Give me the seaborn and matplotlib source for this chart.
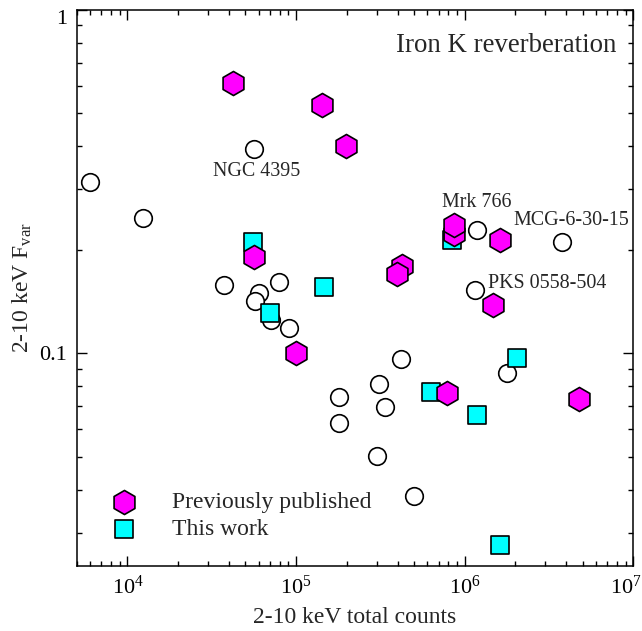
import numpy as np
import pandas as pd
import seaborn as sns
import matplotlib
matplotlib.use("Agg")
import matplotlib.pyplot as plt
import matplotlib.transforms as mtrans
from matplotlib.ticker import LogLocator, FixedLocator, FixedFormatter, NullFormatter

# ---- data ----
other_counts = [6.0e3, 1.24e4, 5.6e4, 3.75e4, 7.9e4, 6.0e4, 5.7e4, 7.1e4, 9.1e4,
                1.18e6, 3.78e6, 1.15e6, 4.21e5, 3.09e5, 1.80e5, 3.37e5, 1.80e5,
                3.02e5, 4.98e5, 1.78e6]
other_fvar = [0.315, 0.248, 0.393, 0.158, 0.161, 0.150, 0.142, 0.125, 0.118,
              0.228, 0.211, 0.153, 0.0962, 0.0814, 0.0744, 0.0699, 0.0625,
              0.0502, 0.0385, 0.0877]

pub_counts = [4.21e4, 1.43e5, 1.97e5, 5.66e4, 8.59e5, 8.59e5, 1.62e6, 4.27e5,
              3.97e5, 1.48e6, 1.0e5, 7.9e5, 4.78e6]
pub_fvar = [0.612, 0.528, 0.400, 0.190, 0.222, 0.236, 0.213, 0.179,
            0.170, 0.138, 0.100, 0.0764, 0.0736]

new_counts = [5.52e4, 7.0e4, 1.455e5, 8.42e5, 6.35e5, 1.18e6, 2.03e6, 1.63e6]
new_fvar = [0.210, 0.131, 0.156, 0.213, 0.0773, 0.0661, 0.0968, 0.0277]

# named sources: (name, x, y)
src_names = ["NGC 4395", "Mrk 766", "MCG-6-30-15", "PKS 0558-504"]
src_counts = [5.6e4, 8.59e5, 3.78e6, 1.15e6]
src_fvar = [0.393, 0.236, 0.211, 0.153]

x_ticks = [1e4, 1e5, 1e6, 1e7]
x_ticklabels = ["$10^{4}$", "$10^{5}$", "$10^{6}$", "$10^{7}$"]
y_ticks = [0.1, 1.0]
y_ticklabels = ["0.1", "1"]

legend_labels = ["Previously published", "This work"]
title_text = "Iron K reverberation"
xlabel = "2-10 keV total counts"
ylabel = "2-10 keV F$_{\\mathregular{var}}$"

# ---- style ----
sns.set_style("ticks")
plt.rcParams["font.family"] = ["Liberation Serif", "DejaVu Serif"]
plt.rcParams["mathtext.fontset"] = "custom"
plt.rcParams["mathtext.rm"] = "Liberation Serif"
plt.rcParams["mathtext.it"] = "Liberation Serif:italic"
plt.rcParams["mathtext.bf"] = "Liberation Serif:bold"
plt.rcParams["axes.linewidth"] = 1.1

fig = plt.figure(figsize=(6.42, 6.31), dpi=100)
ax = fig.add_axes([0.1195, 0.1030, 0.8670, 0.8816])

df_other = pd.DataFrame({"counts": other_counts, "fvar": other_fvar})
df_pub = pd.DataFrame({"counts": pub_counts, "fvar": pub_fvar})
df_new = pd.DataFrame({"counts": new_counts, "fvar": new_fvar})

sns.scatterplot(data=df_other, x="counts", y="fvar", ax=ax, marker="o", s=160,
                facecolor="white", edgecolor="black", linewidth=1.2, legend=False, zorder=3)
sns.scatterplot(data=df_new, x="counts", y="fvar", ax=ax, marker="s", s=160,
                color="#00FFFF", edgecolor="black", linewidth=1.2, zorder=4,
                label=legend_labels[1])
sns.scatterplot(data=df_pub, x="counts", y="fvar", ax=ax, marker="h", s=300,
                color="#FF00FF", edgecolor="black", linewidth=1.2, zorder=5,
                label=legend_labels[0])

ax.set_xscale("log")
ax.set_yscale("log")
ax.set_xlim(5000, 1e7)
ax.set_ylim(0.024, 1.0)

ax.xaxis.set_major_locator(FixedLocator(x_ticks))
ax.xaxis.set_major_formatter(FixedFormatter(x_ticklabels))
ax.xaxis.set_minor_locator(LogLocator(base=10, subs=np.arange(2, 10), numticks=20))
ax.xaxis.set_minor_formatter(NullFormatter())
ax.yaxis.set_major_locator(FixedLocator(y_ticks))
ax.yaxis.set_major_formatter(FixedFormatter(y_ticklabels))
ax.yaxis.set_minor_locator(LogLocator(base=10, subs=np.arange(2, 10), numticks=20))
ax.yaxis.set_minor_formatter(NullFormatter())

ax.tick_params(which="both", direction="in", top=True, right=True, labelsize=16, width=1.0, colors="black")
ax.tick_params(which="major", length=7, pad=7)
ax.tick_params(which="minor", length=3.8)
for sp in ax.spines.values():
    sp.set_visible(True)
    sp.set_color("black")

ax.set_xlabel(xlabel, fontsize=17, labelpad=6)
ax.set_ylabel(ylabel, fontsize=17, labelpad=4)

# keep edge tick labels inside the figure, as in the reference
xt = ax.xaxis.get_major_ticks()
xt[-1].label1.set_transform(xt[-1].label1.get_transform() +
                            mtrans.ScaledTranslation(-0.07, 0, fig.dpi_scale_trans))
yt = ax.yaxis.get_major_ticks()
yt[-1].label1.set_transform(yt[-1].label1.get_transform() +
                            mtrans.ScaledTranslation(0, -0.07, fig.dpi_scale_trans))

ax.text(0.970, 0.936, title_text, transform=ax.transAxes, ha="right", va="center", fontsize=19.4)

offsets = [(2.5, -16.3, "center"), (16.5, 16.4, "center"), (6.3, 15.5, "center"), (9.6, 4.5, "left")]
for name, cx, cy, (dx, dy, ha) in zip(src_names, src_counts, src_fvar, offsets):
    ax.annotate(name, (cx, cy), xytext=(dx, dy), textcoords="offset points",
                ha=ha, va="center", fontsize=14.4)

handles, labels = ax.get_legend_handles_labels()
order = [labels.index(legend_labels[0]), labels.index(legend_labels[1])]
ax.legend([handles[i] for i in order], [labels[i] for i in order],
          loc="lower left", bbox_to_anchor=(0.025, 0.030), frameon=False,
          fontsize=17, handletextpad=1.03, labelspacing=0.23, borderaxespad=0)

fig.savefig("out.png", dpi=100)
